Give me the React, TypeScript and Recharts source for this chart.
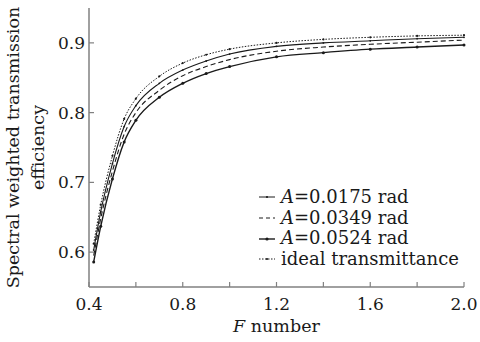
import { LineChart, Line, XAxis, YAxis } from "recharts";

const fNumbers = [0.42, 0.45, 0.5, 0.55, 0.6, 0.7, 0.8, 0.9, 1.0, 1.2, 1.4, 1.6, 1.8, 2.0];
const idealValues = [0.612, 0.668, 0.738, 0.791, 0.82, 0.852, 0.871, 0.883, 0.891, 0.9, 0.905, 0.908, 0.91, 0.911];
const a0175Values = [0.603, 0.658, 0.727, 0.78, 0.81, 0.842, 0.861, 0.874, 0.884, 0.895, 0.9, 0.903, 0.906, 0.908];
const a0349Values = [0.595, 0.648, 0.716, 0.769, 0.8, 0.832, 0.853, 0.866, 0.876, 0.888, 0.894, 0.898, 0.901, 0.904];
const a0524Values = [0.586, 0.637, 0.705, 0.758, 0.789, 0.822, 0.842, 0.856, 0.866, 0.88, 0.886, 0.891, 0.894, 0.897];

const xTicks = [0.4, 0.6, 0.8, 1.0, 1.2, 1.4, 1.6, 1.8, 2.0];
const xLabels = ["0.4", "", "0.8", "", "1.2", "", "1.6", "", "2.0"];
const yTicks = [0.6, 0.7, 0.8, 0.9];
const yLabels = ["0.6", "0.7", "0.8", "0.9"];

const legendItems = [
  { key: "a1", italic: "A", rest: "=0.0175 rad" },
  { key: "a2", italic: "A", rest: "=0.0349 rad" },
  { key: "a3", italic: "A", rest: "=0.0524 rad" },
  { key: "ideal", italic: "", rest: "ideal transmittance" },
];

const FONT = "'DejaVu Serif', serif";
const AXIS = "#808080";
const INK = "#1a1a1a";

const data = fNumbers.map((f, i) => ({
  f,
  ideal: idealValues[i],
  a1: a0175Values[i],
  a2: a0349Values[i],
  a3: a0524Values[i],
}));

function XTick({ x, y, index }: any) {
  return (
    <g>
      <line x1={x} y1={y} x2={x} y2={y - 5} stroke={AXIS} strokeWidth={1.2} />
      <text x={x} y={y + 23} textAnchor="middle" fontSize={17} fill={INK} fontFamily={FONT}>
        {xLabels[index]}
      </text>
    </g>
  );
}

function YTick({ x, y, index }: any) {
  return (
    <g>
      <line x1={x} y1={y} x2={x + 5} y2={y} stroke={AXIS} strokeWidth={1.2} />
      <text x={x - 4} y={y + 6} textAnchor="end" fontSize={17} fill={INK} fontFamily={FONT}>
        {yLabels[index]}
      </text>
    </g>
  );
}

function YTitle({ viewBox }: any) {
  const cy = viewBox.y + viewBox.height / 2;
  return (
    <g fontFamily={FONT} fontSize={17.5} fill={INK}>
      <text x={0} y={0} textAnchor="middle" transform={`translate(19 ${cy}) rotate(-90)`}>
        Spectral weighted transmission
      </text>
      <text x={0} y={0} textAnchor="middle" transform={`translate(44 ${cy}) rotate(-90)`}>
        efficiency
      </text>
    </g>
  );
}

function XTitle({ viewBox }: any) {
  const cx = viewBox.x + viewBox.width / 2;
  return (
    <text x={cx} y={viewBox.y + 45} textAnchor="middle" fontFamily={FONT} fontSize={17.5} fill={INK}>
      <tspan fontStyle="italic">F</tspan> number
    </text>
  );
}

function Sample({ kind }: { kind: string }) {
  const dash = kind === "a2" ? "4 3" : kind === "ideal" ? "1.5 1.5" : undefined;
  return (
    <svg width={16} height={10} style={{ marginRight: 6 }}>
      <line x1={0} y1={5} x2={16} y2={5} stroke={INK} strokeWidth={kind === "a3" ? 1.4 : 1} strokeDasharray={dash} />
      {kind !== "a2" && <circle cx={8} cy={5} r={kind === "a3" ? 1.6 : 1.1} fill={INK} />}
    </svg>
  );
}

function LegendBox() {
  return (
    <div
      style={{
        position: "absolute",
        left: 259,
        top: 187,
        fontFamily: FONT,
        fontSize: 18,
        color: INK,
        lineHeight: "20.7px",
      }}
    >
      {legendItems.map((it) => (
        <div key={it.key} style={{ display: "flex", alignItems: "center", whiteSpace: "nowrap" }}>
          <Sample kind={it.key} />
          <span>
            {it.italic && <i>{it.italic}</i>}
            {it.rest}
          </span>
        </div>
      ))}
    </div>
  );
}

export default function App() {
  return (
    <div style={{ position: "absolute", left: 0, top: 0, width: 480, height: 342, background: "#fff" }}>
      <LineChart width={480} height={342} data={data} margin={{ top: 8, right: 16, bottom: 0, left: 0 }}>
        <XAxis
          xAxisId="main"
          dataKey="f"
          type="number"
          domain={[0.4, 2.0]}
          ticks={xTicks}
          interval={0}
          height={55}
          stroke={AXIS}
          strokeWidth={1.5}
          tickLine={false}
          tickSize={0}
          tickMargin={0}
          tick={<XTick />}
          label={<XTitle />}
        />
        <XAxis xAxisId="top" orientation="top" type="number" domain={[0.4, 2.0]} height={0} stroke={AXIS} strokeWidth={1.5} tick={false} tickLine={false} />
        <YAxis
          yAxisId="main"
          type="number"
          domain={[0.55, 0.95]}
          ticks={yTicks}
          interval={0}
          width={89}
          stroke={AXIS}
          strokeWidth={1.5}
          tickLine={false}
          tickSize={0}
          tickMargin={0}
          tick={<YTick />}
          label={<YTitle />}
        />
        <YAxis yAxisId="right" orientation="right" type="number" domain={[0.55, 0.95]} width={0} stroke={AXIS} strokeWidth={1.5} tick={false} tickLine={false} />
        <Line xAxisId="main" yAxisId="main" type="monotone" dataKey="ideal" stroke={INK} strokeWidth={1} strokeDasharray="1.5 1.5" dot={{ r: 1.1, fill: INK, stroke: "none" }} isAnimationActive={false} />
        <Line xAxisId="main" yAxisId="main" type="monotone" dataKey="a1" stroke={INK} strokeWidth={1.1} dot={{ r: 0.9, fill: INK, stroke: "none" }} isAnimationActive={false} />
        <Line xAxisId="main" yAxisId="main" type="monotone" dataKey="a2" stroke={INK} strokeWidth={1.1} strokeDasharray="5 3" dot={false} isAnimationActive={false} />
        <Line xAxisId="main" yAxisId="main" type="monotone" dataKey="a3" stroke={INK} strokeWidth={1.4} dot={{ r: 1.5, fill: INK, stroke: "none" }} isAnimationActive={false} />
      </LineChart>
      <LegendBox />
    </div>
  );
}
